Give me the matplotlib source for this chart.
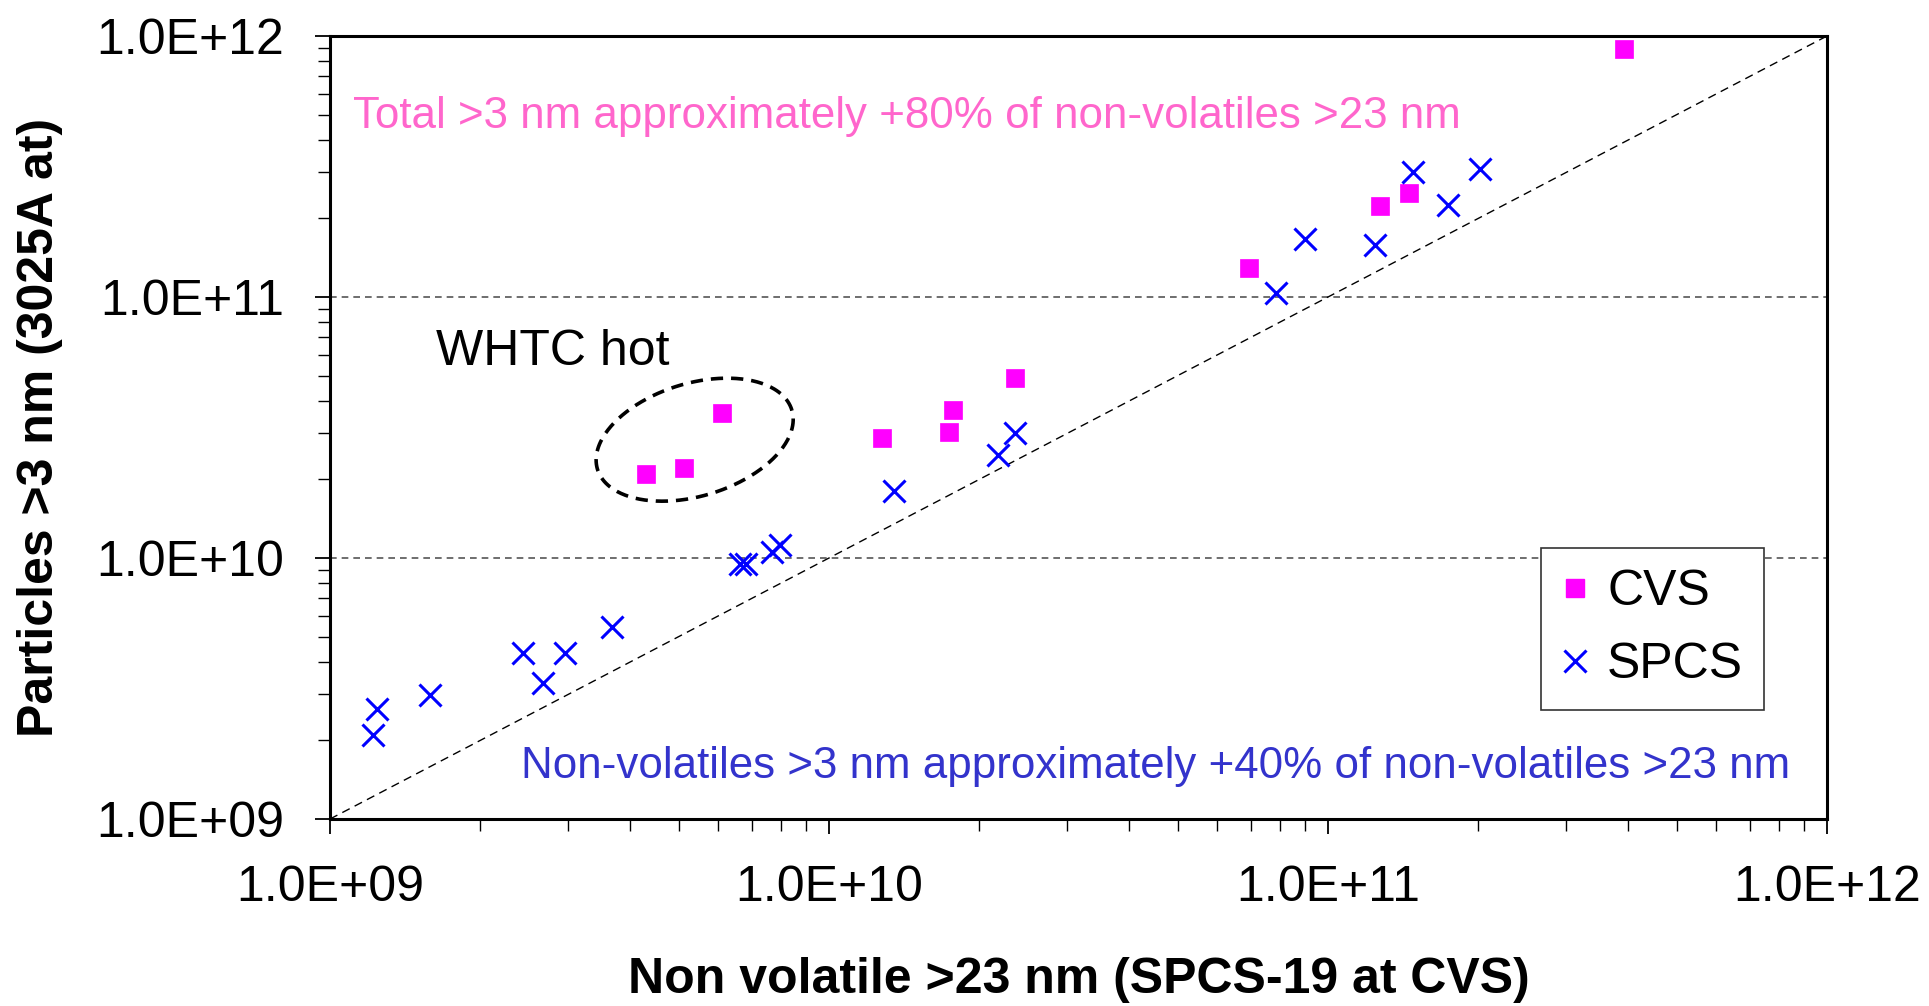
import numpy as np
import matplotlib.pyplot as plt
from matplotlib.lines import Line2D

plt.rcParams['font.family'] = ['Liberation Sans', 'DejaVu Sans']

# non-volatile >23 nm (x) and particles >3 nm (y)
cvs_x = [3.92e11, 1.27e11, 1.45e11, 6.94e10, 2.36e10, 1.77e10, 1.74e10,
         1.28e10, 6.1e9, 5.13e9, 4.3e9]
cvs_y = [8.9e11, 2.24e11, 2.5e11, 1.29e11, 4.9e10, 3.7e10, 3.04e10,
         2.88e10, 3.58e10, 2.22e10, 2.1e10]

spcs_x = [1.48e11, 2.02e11, 1.74e11, 1.24e11, 9.0e10, 7.86e10, 2.36e10,
          2.18e10, 1.35e10, 7.98e9, 7.67e9, 6.81e9, 6.62e9, 3.67e9,
          2.44e9, 2.96e9, 2.67e9, 1.59e9, 1.24e9, 1.22e9]
spcs_y = [3.0e11, 3.1e11, 2.26e11, 1.58e11, 1.67e11, 1.04e11, 3.01e10,
          2.48e10, 1.81e10, 1.12e10, 1.05e10, 9.45e9, 9.5e9, 5.42e9,
          4.32e9, 4.32e9, 3.33e9, 2.99e9, 2.65e9, 2.09e9]

lims = [1e9, 1e12]
ticks = [1e9, 1e10, 1e11, 1e12]
tick_labels = ['1.0E+09', '1.0E+10', '1.0E+11', '1.0E+12']

# WHTC hot group outline: centre in data units, semi-axes in pixels
whtc_center = (5.38e9, 2.84e10)
whtc_a, whtc_b, whtc_angle = 101.6, 56.3, 17.0

fig = plt.figure(figsize=(19.29, 10.06), dpi=100)
ax = fig.add_axes([330 / 1929, 1 - 819 / 1006, 1497 / 1929, 783 / 1006])
ax.set_xscale('log')
ax.set_yscale('log')
ax.set_xlim(lims)
ax.set_ylim(lims)

for y in [1e10, 1e11]:
    ax.axhline(y, color='#555555', lw=1.2, ls=(0, (4, 3)), zorder=1)
ax.plot(lims, lims, color='black', lw=1.0, ls=(0, (6, 4)), zorder=1)

ax.plot(cvs_x, cvs_y, ls='none', marker='s', ms=13, color='#FF00FF',
        mec='#FF00FF', mew=0.5, zorder=3)
ax.plot(spcs_x, spcs_y, ls='none', marker='x', ms=16, mew=2.2,
        color='#0000FF', zorder=3)

# dashed ellipse around the WHTC hot points
cx, cy = ax.transData.transform(whtc_center)
t = np.linspace(0, 2 * np.pi, 300)
th = np.radians(whtc_angle)
px = cx + whtc_a * np.cos(t) * np.cos(th) - whtc_b * np.sin(t) * np.sin(th)
py = cy + whtc_a * np.cos(t) * np.sin(th) + whtc_b * np.sin(t) * np.cos(th)
pts = ax.transData.inverted().transform(np.column_stack([px, py]))
ax.plot(pts[:, 0], pts[:, 1], color='black', lw=2.6, ls=(0, (3.4, 2.2)),
        zorder=2)

ax.set_xticks(ticks)
ax.set_xticklabels(tick_labels)
ax.set_yticks(ticks)
ax.set_yticklabels(tick_labels)
ax.tick_params(which='major', direction='out', length=11, width=1.3,
               labelsize=36, pad=22)
ax.tick_params(which='minor', direction='out', length=8.5, width=1.0)
for s in ax.spines.values():
    s.set_linewidth(2.2)

ax.set_xlabel('Non volatile >23 nm (SPCS-19 at CVS)', fontsize=36,
              fontweight='bold')
ax.xaxis.set_label_coords(0.5, -0.2056)
ax.xaxis.label.set_va('center')
ax.set_ylabel('Particles >3 nm (3025A at)', fontsize=36, fontweight='bold')
ax.yaxis.set_label_coords(-0.1937, 0.5)
ax.yaxis.label.set_va('center')

fig.text(353 / 1929, 1 - 128 / 1006,
         'Total >3 nm approximately +80% of non-volatiles >23 nm',
         color='#FF66CC', fontsize=31.6, va='baseline')
fig.text(521 / 1929, 1 - 778 / 1006,
         'Non-volatiles >3 nm approximately +40% of non-volatiles >23 nm',
         color='#3333CC', fontsize=31.6, va='baseline')
fig.text(436 / 1929, 1 - 365 / 1006, 'WHTC hot', color='black',
         fontsize=36, va='baseline')

handles = [Line2D([], [], ls='none', marker='s', ms=13, color='#FF00FF'),
           Line2D([], [], ls='none', marker='x', ms=16, mew=2.2,
                  color='#0000FF')]
leg = ax.legend(handles, ['CVS', 'SPCS'], loc='upper left',
                bbox_to_anchor=(1541 / 1929, 1 - 548 / 1006),
                bbox_transform=fig.transFigure, borderaxespad=0,
                fontsize=36, frameon=True, fancybox=False, framealpha=1,
                edgecolor='#333333', borderpad=0.42, handlelength=0.5,
                handletextpad=0.4, labelspacing=0.55)
leg.get_frame().set_linewidth(1.2)

fig.savefig('out.png', dpi=100)
